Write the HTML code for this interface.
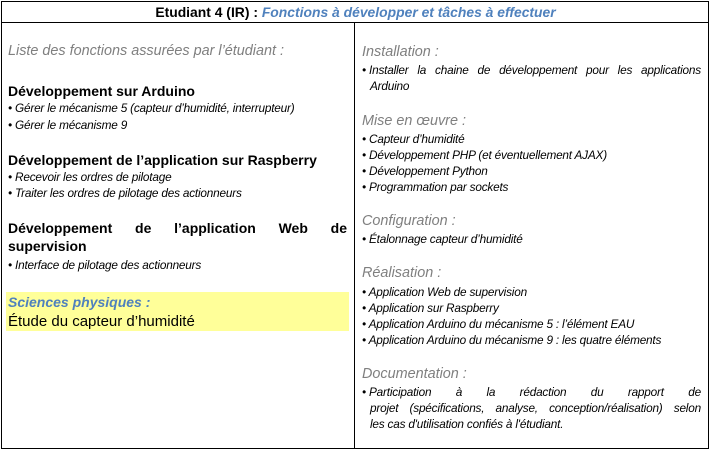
<!DOCTYPE html>
<html><head><meta charset="utf-8"><style>
body{margin:0;width:711px;height:452px;background:#fff;position:relative;font-family:"Liberation Sans",sans-serif;overflow:hidden}
.l{position:absolute;line-height:16px;white-space:nowrap;color:#000}
.h{font-size:14px;font-weight:bold}
.b{font-size:11.8px;font-style:italic;letter-spacing:-0.2px}
.g{font-size:14.4px;font-style:italic;color:#7f7f7f}
.bl{position:absolute;border:0}
</style></head><body>
<div class="bl" style="left:1px;top:1px;width:706px;height:446px;border:1px solid #000"></div>
<div class="bl" style="left:1px;top:22px;width:708px;height:1px;background:#000"></div>
<div class="bl" style="left:354px;top:22px;width:1px;height:427px;background:#000"></div>
<div class="bl" style="left:6px;top:292px;width:343px;height:39px;background:#ffff99"></div>

<div class="l h" style="left:0;width:711px;text-align:center;top:4px;font-size:13.9px">Etudiant 4 (IR) : <i style="color:#4f81bd">Fonctions à développer et tâches à effectuer</i></div>

<div class="l g" style="left:8px;top:43px">Liste des fonctions assurées par l’étudiant :</div>
<div class="l h" style="left:8px;top:83px">Développement sur Arduino</div>
<div class="l b" style="left:8px;top:100px">• Gérer le mécanisme 5 (capteur d’humidité, interrupteur)</div>
<div class="l b" style="left:8px;top:117px">• Gérer le mécanisme 9</div>
<div class="l h" style="left:8px;top:152px">Développement de l’application sur Raspberry</div>
<div class="l b" style="left:8px;top:169px">• Recevoir les ordres de pilotage</div>
<div class="l b" style="left:8px;top:185px">• Traiter les ordres de pilotage des actionneurs</div>
<div class="l h" style="left:8px;top:220px;width:339px;display:flex;justify-content:space-between"><span>Développement</span><span>de</span><span>l’application</span><span>Web</span><span>de</span></div>
<div class="l h" style="left:8px;top:238px">supervision</div>
<div class="l b" style="left:8px;top:257px">• Interface de pilotage des actionneurs</div>
<div class="l h" style="left:8px;top:294px;color:#4f81bd;font-style:italic">Sciences physiques :</div>
<div class="l" style="left:8px;top:314px;font-size:15px">Étude du capteur d’humidité</div>

<div class="l g" style="left:362px;top:44px">Installation :</div>
<div class="l b" style="left:362px;top:62px;width:339px;display:flex;justify-content:space-between"><span>• Installer</span><span>la</span><span>chaine</span><span>de</span><span>développement</span><span>pour</span><span>les</span><span>applications</span></div>
<div class="l b" style="left:370px;top:78px">Arduino</div>
<div class="l g" style="left:362px;top:113px">Mise en œuvre :</div>
<div class="l b" style="left:362px;top:131px">• Capteur d’humidité</div>
<div class="l b" style="left:362px;top:147px">• Développement PHP (et éventuellement AJAX)</div>
<div class="l b" style="left:362px;top:163px">• Développement Python</div>
<div class="l b" style="left:362px;top:179px">• Programmation par sockets</div>
<div class="l g" style="left:362px;top:213px">Configuration :</div>
<div class="l b" style="left:362px;top:231px">• Étalonnage capteur d’humidité</div>
<div class="l g" style="left:362px;top:265px">Réalisation :</div>
<div class="l b" style="left:362px;top:284px">• Application Web de supervision</div>
<div class="l b" style="left:362px;top:300px">• Application sur Raspberry</div>
<div class="l b" style="left:362px;top:316px">• Application Arduino du mécanisme 5 : l’élément EAU</div>
<div class="l b" style="left:362px;top:332px">• Application Arduino du mécanisme 9 : les quatre éléments</div>
<div class="l g" style="left:362px;top:366px">Documentation :</div>
<div class="l b" style="left:362px;top:384px;width:339px;display:flex;justify-content:space-between"><span>• Participation</span><span>à</span><span>la</span><span>rédaction</span><span>du</span><span>rapport</span><span>de</span></div>
<div class="l b" style="left:370px;top:400px;width:331px;display:flex;justify-content:space-between"><span>projet</span><span>(spécifications,</span><span>analyse,</span><span>conception/réalisation)</span><span>selon</span></div>
<div class="l b" style="left:370px;top:416px">les cas d'utilisation confiés à l'étudiant.</div>
</body></html>
